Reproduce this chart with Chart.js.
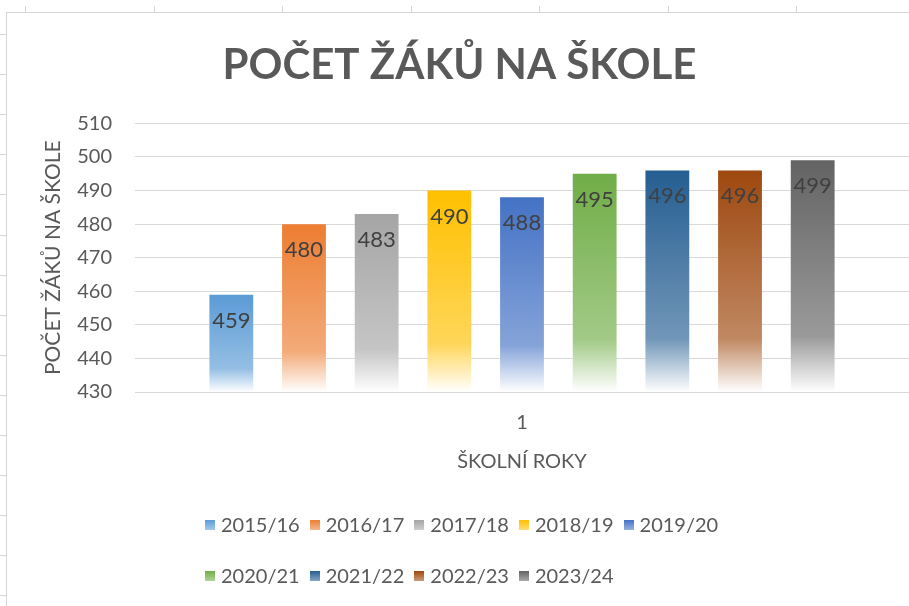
<!DOCTYPE html>
<html>
<head>
<meta charset="utf-8">
<script src="https://cdn.jsdelivr.net/npm/chart.js@4/dist/chart.umd.min.js"></script>
<style>
  html, body { margin: 0; padding: 0; background: #fff; }
  #wrap { position: relative; width: 909px; height: 606px; overflow: hidden; font-family: Lato, sans-serif; }
  #frameLeft { position: absolute; left: 6px; top: 12px; width: 1px; height: 600px; background: #d6d6d6; }
  #frameTop { position: absolute; left: 6px; top: 12px; width: 910px; height: 1px; background: #d6d6d6; }
  .tk { position: absolute; background: #d6d6d6; }
  #myChart { position: absolute; left: 0; top: 0; }
  #legend { position: absolute; left: 205px; top: 512px; width: 560px; display: flex; flex-wrap: wrap; row-gap: 26px; }
  .item { display: flex; align-items: center; margin-right: 10px; font-size: 20px; line-height: 25px; color: #595959; }
  .box { width: 10px; height: 10px; margin-right: 6px; }
</style>
</head>
<body>
<div id="wrap">
  <div id="frameLeft"></div>
  <div id="frameTop"></div>
  <canvas id="myChart" width="909" height="606"></canvas>
  <div id="legend"></div>
</div>
<script>
var years = ['2015/16', '2016/17', '2017/18', '2018/19', '2019/20', '2020/21', '2021/22', '2022/23', '2023/24'];
var pupils = [459, 480, 483, 490, 488, 495, 496, 496, 499];
var categories = ['1'];
var colors = ['#5B9BD5', '#ED7D31', '#A5A5A5', '#FFC000', '#4472C4', '#70AD47', '#255E91', '#9E480E', '#636363'];
var yMin = 430, yMax = 510, yStep = 10;

var textColor = '#595959';

// spreadsheet cell borders around the chart object
var wrap = document.getElementById('wrap');
for (var i = 0; i < 7; i++) {
  var t = document.createElement('div');
  t.className = 'tk';
  t.style.cssText = 'left:' + (25 + i * 128.5) + 'px;top:6px;width:1px;height:6px;';
  wrap.appendChild(t);
}
for (var i = 0; i < 15; i++) {
  var t = document.createElement('div');
  t.className = 'tk';
  t.style.cssText = 'left:0px;top:' + (34 + i * 40.1) + 'px;width:6px;height:1px;';
  wrap.appendChild(t);
}

function lighten(hex, k) {
  var n = parseInt(hex.slice(1), 16);
  var r = n >> 16, g = (n >> 8) & 255, b = n & 255;
  r = Math.round(r + (255 - r) * k);
  g = Math.round(g + (255 - g) * k);
  b = Math.round(b + (255 - b) * k);
  return 'rgb(' + r + ',' + g + ',' + b + ')';
}

function barFill(ctx) {
  var base = colors[ctx.datasetIndex];
  var chart = ctx.chart;
  if (!chart.chartArea || ctx.type !== 'data') return base;
  var ys = chart.scales.y;
  var top = ys.getPixelForValue(ctx.raw);
  var bottom = ys.getPixelForValue(yMin);
  if (!isFinite(top) || !isFinite(bottom) || bottom - top < 1) return base;
  var g = chart.ctx.createLinearGradient(0, top, 0, bottom);
  g.addColorStop(0, base);
  g.addColorStop(0.76, lighten(base, 0.35));
  g.addColorStop(1, 'rgba(255,255,255,1)');
  return g;
}

var datasets = years.map(function (y, i) {
  return {
    label: y,
    data: [pupils[i]],
    backgroundColor: barFill,
    borderWidth: 0,
    barPercentage: 0.603,
    categoryPercentage: 0.845
  };
});

// values inside the top of every bar
const valueLabels = {
  id: 'valueLabels',
  afterDatasetsDraw(chart) {
    var c = chart.ctx;
    c.save();
    c.font = '22px Lato';
    c.fillStyle = '#404040';
    c.textAlign = 'center';
    c.textBaseline = 'middle';
    chart.data.datasets.forEach(function (ds, i) {
      chart.getDatasetMeta(i).data.forEach(function (bar, j) {
        c.fillText(ds.data[j], bar.x, bar.y + 26);
      });
    });
    c.restore();
  }
};

const config = {
  type: 'bar',
  data: { labels: categories, datasets: datasets },
  options: {
    responsive: false,
    animation: false,
    layout: { padding: { left: 10, right: 0, top: 0, bottom: 132 } },
    plugins: {
      legend: { display: false },
      tooltip: { enabled: false },
      title: {
        display: true,
        text: 'POČET ŽÁKŮ NA ŠKOLE',
        color: textColor,
        font: { family: 'Lato', size: 42, weight: 'bold' },
        padding: { top: 40, bottom: 33 }
      }
    },
    scales: {
      x: {
        grid: { display: false, drawTicks: true, tickLength: 19 },
        border: { display: false },
        ticks: { color: textColor, font: { family: 'Lato', size: 20 }, padding: 0 },
        title: {
          display: true,
          text: 'ŠKOLNÍ ROKY',
          color: textColor,
          font: { family: 'Lato', size: 20 },
          padding: { top: 15, bottom: 0 }
        }
      },
      y: {
        min: yMin,
        max: yMax,
        grid: { color: '#d9d9d9', drawTicks: true, tickLength: 23, tickColor: 'rgba(0,0,0,0)' },
        border: { display: false },
        ticks: { stepSize: yStep, color: textColor, font: { family: 'Lato', size: 20 }, padding: 0 },
        title: {
          display: true,
          text: 'POČET ŽÁKŮ NA ŠKOLE',
          color: textColor,
          font: { family: 'Lato', size: 21 },
          padding: { top: 31, bottom: 11 }
        }
      }
    }
  },
  plugins: [valueLabels]
};

var myChart = new Chart(document.getElementById('myChart'), config);

// legend below the plot, two rows like the original
var legend = document.getElementById('legend');
years.forEach(function (y, i) {
  var item = document.createElement('div');
  item.className = 'item';
  var box = document.createElement('span');
  box.className = 'box';
  box.style.background = 'linear-gradient(' + colors[i] + ', ' + lighten(colors[i], 0.45) + ')';
  item.appendChild(box);
  item.appendChild(document.createTextNode(y));
  legend.appendChild(item);
});
</script>
</body>
</html>
